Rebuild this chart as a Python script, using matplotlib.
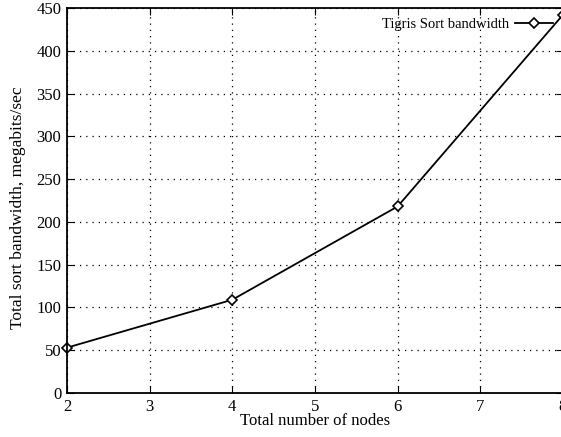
import matplotlib
matplotlib.use("Agg")
from matplotlib import pyplot as plt

# Data
nodes = [2, 4, 6, 8]
bandwidth = [53, 109, 218, 442]
xticks = [2, 3, 4, 5, 6, 7, 8]
yticks = [0, 50, 100, 150, 200, 250, 300, 350, 400, 450]

plt.rcParams['font.family'] = ['Liberation Serif', 'DejaVu Serif']

fig = plt.figure(figsize=(5.61, 4.37), dpi=100)
ax = fig.add_axes([0.1194, 0.1007, 0.884, 0.881])

ax.plot(nodes, bandwidth, color='black', linewidth=1.3, marker='D',
        markersize=5, markerfacecolor='white', markeredgecolor='black',
        markeredgewidth=1.2, label='Tigris Sort bandwidth', clip_on=False)

ax.set_xlim(2, 8)
ax.set_ylim(0, 450)
ax.set_xticks(xticks)
ax.set_yticks(yticks)
ax.grid(True, color='black', linestyle=(0, (1, 4)), linewidth=0.9)

ax.tick_params(axis='both', direction='in', labelsize=12, length=5,
               top=True, right=True, pad=4)
for s in ax.spines.values():
    s.set_linewidth(1.3)

ax.set_xlabel('Total number of nodes', fontsize=12, labelpad=-1)
ax.set_ylabel('Total sort bandwidth, megabits/sec', fontsize=12.5)
ax.yaxis.set_label_coords(-0.083, 0.48)

ax.legend(loc='upper right', bbox_to_anchor=(1.0, 1.0), frameon=False,
          fontsize=10.5, markerfirst=False, handlelength=2.6,
          handletextpad=0.4, borderaxespad=0.3)

fig.savefig('out.png', dpi=100)
